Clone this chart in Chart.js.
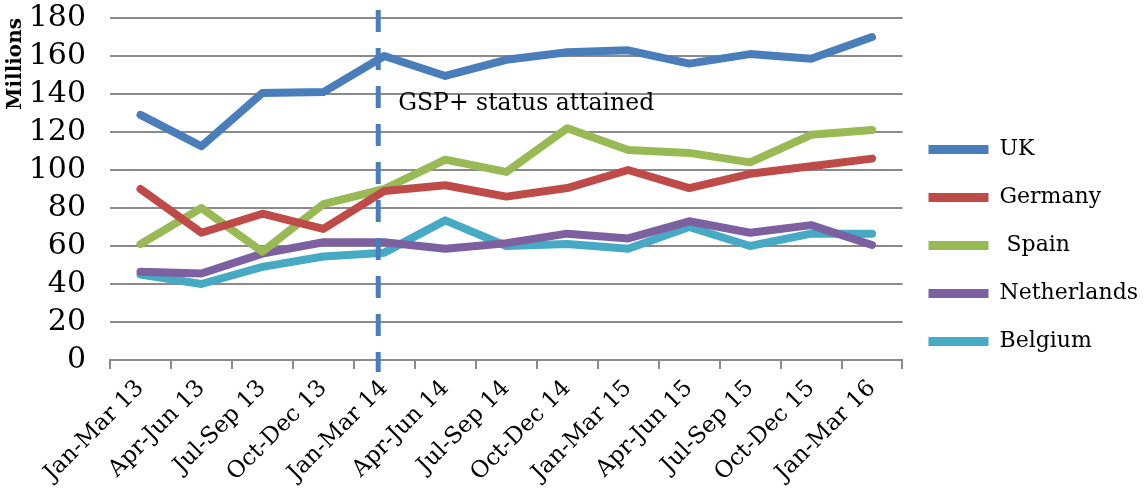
<!DOCTYPE html>
<html>
<head>
<meta charset="utf-8">
<script src="https://cdn.jsdelivr.net/npm/chart.js@4.4.1/dist/chart.umd.min.js"></script>
<style>
  html, body { margin: 0; padding: 0; background: #fff; }
  #wrap { width: 1148px; height: 491px; }
</style>
</head>
<body>
<div id="wrap"><canvas id="chart"></canvas></div>
<script>
const quarters = [
  "Jan-Mar 13", "Apr-Jun 13", "Jul-Sep 13", "Oct-Dec 13", "Jan-Mar 14",
  "Apr-Jun 14", "Jul-Sep 14", "Oct-Dec 14", "Jan-Mar 15", "Apr-Jun 15",
  "Jul-Sep 15", "Oct-Dec 15", "Jan-Mar 16"
];
const uk          = [129, 112.5, 140.5, 141, 160, 149.5, 158, 162, 163, 156, 161, 158.5, 170];
const germany     = [90, 67, 77, 69, 89, 92, 86, 90.5, 100, 90.5, 98, 102, 106];
const spain       = [61, 80, 57, 82, 90, 105.5, 99, 122, 110.5, 109, 104, 118.5, 121];
const netherlands = [46.5, 45.5, 56, 62, 62, 58.5, 61.5, 66.5, 64, 73, 67, 71, 60.5];
const belgium     = [45, 40, 49, 54.5, 56.5, 73.5, 60, 61, 58.5, 70, 60, 66.5, 66.5];
const yTicks = [0, 20, 40, 60, 80, 100, 120, 140, 160, 180];
const markerIndex = 4; // GSP+ status attained
const markerLabel = "GSP+ status attained";

const serif = "'DejaVu Serif', 'Liberation Serif', serif";

function series(label, data, color) {
  return {
    label: label,
    data: data,
    borderColor: color,
    backgroundColor: color,
    borderWidth: 8,
    pointRadius: 0,
    tension: 0,
    borderCapStyle: "round",
    borderJoinStyle: "round",
  };
}

// dashed vertical marker + label
const markerPlugin = {
  id: "marker",
  afterDatasetsDraw(chart) {
    const x = chart.scales.x;
    const y = chart.scales.y;
    const ctx = chart.ctx;
    const p = x.getPixelForValue(markerIndex);
    const prev = x.getPixelForValue(markerIndex - 1);
    const px = p - (p - prev) * 0.1;
    ctx.save();
    ctx.strokeStyle = "#4a7ebb";
    ctx.lineWidth = 5;
    ctx.setLineDash([22, 16]);
    ctx.beginPath();
    ctx.moveTo(px, chart.chartArea.top - 8);
    ctx.lineTo(px, chart.chartArea.bottom + 12);
    ctx.stroke();
    ctx.setLineDash([]);
    ctx.fillStyle = "#000";
    ctx.font = "23.5px " + serif;
    ctx.textBaseline = "middle";
    ctx.fillText(markerLabel, px + 20, y.getPixelForValue(135));
    ctx.restore();
  }
};

new Chart(document.getElementById("chart"), {
  type: "line",
  data: {
    labels: quarters,
    datasets: [
      series("UK", uk, "#4a7ebb"),
      series("Germany", germany, "#be4b48"),
      series(" Spain", spain, "#98b954"),
      series("Netherlands", netherlands, "#7d60a0"),
      series("Belgium", belgium, "#46aac5"),
    ],
  },
  options: {
    responsive: true,
    maintainAspectRatio: false,
    animation: false,
    layout: { padding: { top: 0, right: 0, left: 4, bottom: 0 } },
    plugins: {
      tooltip: { enabled: false },
      legend: {
        position: "right",
        align: "center",
        labels: {
          color: "#000",
          font: { family: serif, size: 22 },
          boxWidth: 60,
          boxHeight: 9,
          padding: 26,
          useBorderRadius: true,
          borderRadius: 4,
          generateLabels(chart) {
            return chart.data.datasets.map((ds, i) => ({
              text: ds.label,
              fillStyle: ds.borderColor,
              strokeStyle: ds.borderColor,
              lineWidth: 0,
              hidden: false,
              datasetIndex: i,
            }));
          },
        },
      },
    },
    scales: {
      x: {
        offset: true,
        afterFit(axis) { axis.height = 131; },
        grid: {
          offset: true,
          drawOnChartArea: false,
          drawTicks: true,
          tickLength: 9,
          color: "#8a8a8a",
          lineWidth: 2,
        },
        border: { display: true, color: "#8a8a8a", width: 2 },
        ticks: {
          color: "#000",
          font: { family: serif, size: 23 },
          maxRotation: 45,
          minRotation: 45,
          padding: 6,
          autoSkip: false,
        },
      },
      y: {
        min: 0,
        max: 180,
        afterFit(axis) {
          axis.width = 106;
          axis.paddingTop = 18;
          axis.paddingBottom = 0;
        },
        afterBuildTicks(axis) {
          axis.ticks = yTicks.map(v => ({ value: v }));
        },
        grid: {
          color: "#8a8a8a",
          lineWidth: 2,
          drawTicks: false,
        },
        border: { display: false },
        ticks: {
          color: "#000",
          font: { family: serif, size: 30, lineHeight: 1 },
          padding: 24,
          autoSkip: false,
        },
        title: {
          display: true,
          align: "end",
          text: "Millions",
          color: "#000",
          font: { family: serif, size: 20, weight: "bold" },
          padding: { top: 0, bottom: 6 },
        },
      },
    },
  },
  plugins: [markerPlugin],
});
</script>
</body>
</html>
